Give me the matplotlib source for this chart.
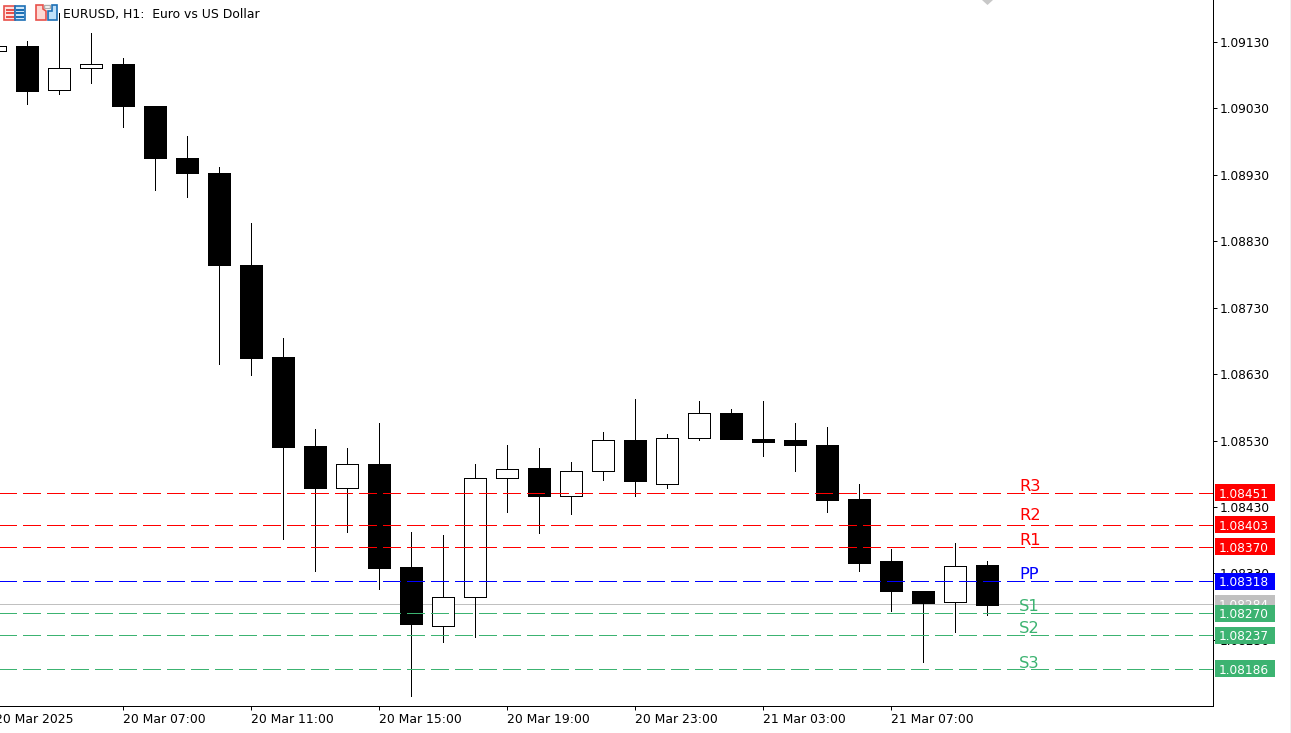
import matplotlib
matplotlib.use('Agg')
import matplotlib.pyplot as plt
from matplotlib.patches import Rectangle, Polygon

# hourly candles, first one is 20 Mar 03:00
opens = [1.09116, 1.09124, 1.09058, 1.09091, 1.09097, 1.09034, 1.08956, 1.08933,
         1.08795, 1.08655, 1.08522, 1.08458, 1.08495, 1.08339, 1.08251, 1.08294,
         1.08474, 1.08488, 1.08446, 1.08484, 1.08531, 1.08465, 1.08534, 1.08572,
         1.08533, 1.08531, 1.08524, 1.08442, 1.08348, 1.08304, 1.08287, 1.08342]
highs = [1.09124, 1.09131, 1.09174, 1.09143, 1.09106, 1.09034, 1.08989, 1.08942,
         1.08858, 1.08685, 1.08548, 1.08519, 1.08557, 1.08393, 1.08388, 1.08494,
         1.08524, 1.08519, 1.08497, 1.08543, 1.08592, 1.08540, 1.08590, 1.08577,
         1.08589, 1.08557, 1.08551, 1.08465, 1.08367, 1.08304, 1.08375, 1.08349]
lows = [1.09116, 1.09036, 1.09052, 1.09069, 1.09002, 1.08907, 1.08896, 1.08645,
        1.08628, 1.08381, 1.08333, 1.08393, 1.08306, 1.08146, 1.08226, 1.08234,
        1.08422, 1.08390, 1.08419, 1.08470, 1.08446, 1.08458, 1.08531, 1.08532,
        1.08506, 1.08484, 1.08422, 1.08334, 1.08274, 1.08197, 1.08241, 1.08268]
closes = [1.09124, 1.09057, 1.09091, 1.09097, 1.09033, 1.08955, 1.08933, 1.08794,
          1.08654, 1.08520, 1.08458, 1.08495, 1.08338, 1.08253, 1.08294, 1.08474,
          1.08487, 1.08446, 1.08484, 1.08531, 1.08469, 1.08534, 1.08572, 1.08532,
          1.08528, 1.08523, 1.08441, 1.08346, 1.08303, 1.08286, 1.08341, 1.08283]

level_names = ['R3', 'R2', 'R1', 'PP', 'S1', 'S2', 'S3']
level_values = [1.08451, 1.08403, 1.08370, 1.08318, 1.08270, 1.08237, 1.08186]
level_colors = ['#ff0000', '#ff0000', '#ff0000', '#0000ff', '#3cb371', '#3cb371', '#3cb371']
label_lift = [1.5, 3.5, 1.0, 1.5, 1.5, 1.2, 0.7]  # points above the line
bid_price = 1.08284

price_ticks = [1.09130, 1.09030, 1.08930, 1.08830, 1.08730, 1.08630, 1.08530,
               1.08430, 1.08330, 1.08230]
time_ticks = [4, 8, 12, 16, 20, 24, 28]
time_labels = ['20 Mar 07:00', '20 Mar 11:00', '20 Mar 15:00',
               '20 Mar 19:00', '20 Mar 23:00', '21 Mar 03:00', '21 Mar 07:00']
first_time_label = '20 Mar 2025'
title = 'EURUSD, H1:  Euro vs US Dollar'

W, H = 1291, 733
PX = 0.72  # one pixel in points at dpi 100
plt.rcParams['font.family'] = 'DejaVu Sans'

fig = plt.figure(figsize=(W / 100, H / 100), dpi=100)
ax = fig.add_axes([0, 1 - 706 / H, 1212.5 / W, 706 / H])

# one pixel wide frame on the right and bottom only
for side in ['top', 'left']:
    ax.spines[side].set_visible(False)
for side in ['right', 'bottom']:
    ax.spines[side].set_linewidth(PX)

# current price sits behind the candles
ax.axhline(bid_price, color='#c0c0c0', lw=PX, zorder=1, antialiased=False)

for i in range(len(opens)):
    top = max(opens[i], closes[i])
    bottom = min(opens[i], closes[i])
    ax.vlines(i, lows[i], highs[i], color='black', lw=PX, zorder=2, antialiased=False)
    fill = 'white' if closes[i] > opens[i] else 'black'
    ax.bar(i, top - bottom, bottom=bottom, width=0.69, facecolor=fill,
           edgecolor='black', lw=PX, zorder=3, antialiased=False)

ax.set_yticks(price_ticks)
ax.set_yticklabels(['%.5f' % p for p in price_ticks], va='center_baseline')
ax.yaxis.tick_right()
ax.set_xticks(time_ticks)
ax.set_xticklabels(time_labels, ha='left')
ax.tick_params(axis='y', length=2.9, width=PX, pad=2.5, labelsize=8.7)
ax.tick_params(axis='x', length=2.9, width=PX, pad=2.0, labelsize=8.9)

# limits go last, set_xticks would widen them again
ax.set_xlim(0.156, 38.05)
ax.set_ylim(1.0813027, 1.0919327)
xmax = ax.get_xlim()[1]

# the tick of the first label is off the left edge of the chart
ax.annotate(first_time_label, (0, 0), xycoords=ax.get_xaxis_transform(), xytext=(0, -4.9),
            textcoords='offset points', fontsize=8.9, ha='left', va='top', annotation_clip=False)

for name, value, color, lift in zip(level_names, level_values, level_colors, label_lift):
    ax.plot([0, xmax], [value, value], color=color, lw=PX, linestyle=(0, (18, 6)),
            dash_capstyle='butt', zorder=4, antialiased=False)
    ax.annotate(name, (32, value), xytext=(0, lift), textcoords='offset points',
                color=color, fontsize=11.7, va='baseline', ha='left', zorder=4)

# price tags on the scale, in the same order as the terminal stacks them
tag_x = 1215 / 1212.5
tag_w = 60 / 1212.5
tag_h = 0.000256
tags = [(bid_price, '#c0c0c0')] + list(zip(level_values, level_colors))
trans = ax.get_yaxis_transform()
for n, (value, color) in enumerate(tags):
    ax.add_patch(Rectangle((tag_x, value - tag_h / 2), tag_w, tag_h, transform=trans,
                           facecolor=color, edgecolor='none', clip_on=False, zorder=5 + n))
    ax.text(1219 / 1212.5, value, '%.5f' % value, transform=trans, color='white',
            fontsize=8.7, va='center_baseline', ha='left', clip_on=False, zorder=5 + n)

# window decoration, drawn in pixel coordinates
def px_rect(x, y, w, h, fc, ec='none', lw=PX):
    fig.add_artist(Rectangle((x / W, 1 - (y + h) / H), w / W, h / H, transform=fig.transFigure,
                             facecolor=fc, edgecolor=ec, lw=lw))

def px_poly(pts, fc, ec='none', lw=PX):
    fig.add_artist(Polygon([(x / W, 1 - y / H) for x, y in pts], closed=True,
                           transform=fig.transFigure, facecolor=fc, edgecolor=ec, lw=lw))

# list icon
px_rect(4, 5.5, 11, 14, '#fde3e0', '#e8504a', 1.2)
px_rect(15, 5.5, 10, 14, '#cfe6f8', '#1c6fb5', 1.2)
for row in [9, 12.5, 16]:
    px_rect(6, row, 8, 1.5, '#e8504a')
    px_rect(16, row, 8, 1.5, '#1c6fb5')

# profile icon
px_poly([(36, 5), (43, 5), (43, 9), (46, 11), (46, 20), (36, 20)], '#fdd9d4', '#e8504a', 1.2)
px_poly([(48, 11), (52, 11), (52, 5), (57, 5), (57, 20), (48, 20)], '#bfe0f8', '#1c6fb5', 1.2)
px_rect(43.5, 5, 6, 3, 'white', '#b0b0b0', 1)

px_poly([(982, 0), (993, 0), (987.5, 5)], '#c8c8c8')
px_rect(1290, 0, 1, H, '#f0f0f0')

fig.text(63 / W, 1 - 18 / H, title, fontsize=8.95, color='black', va='baseline', ha='left')

plt.savefig('out.png', dpi=100)
plt.close()
